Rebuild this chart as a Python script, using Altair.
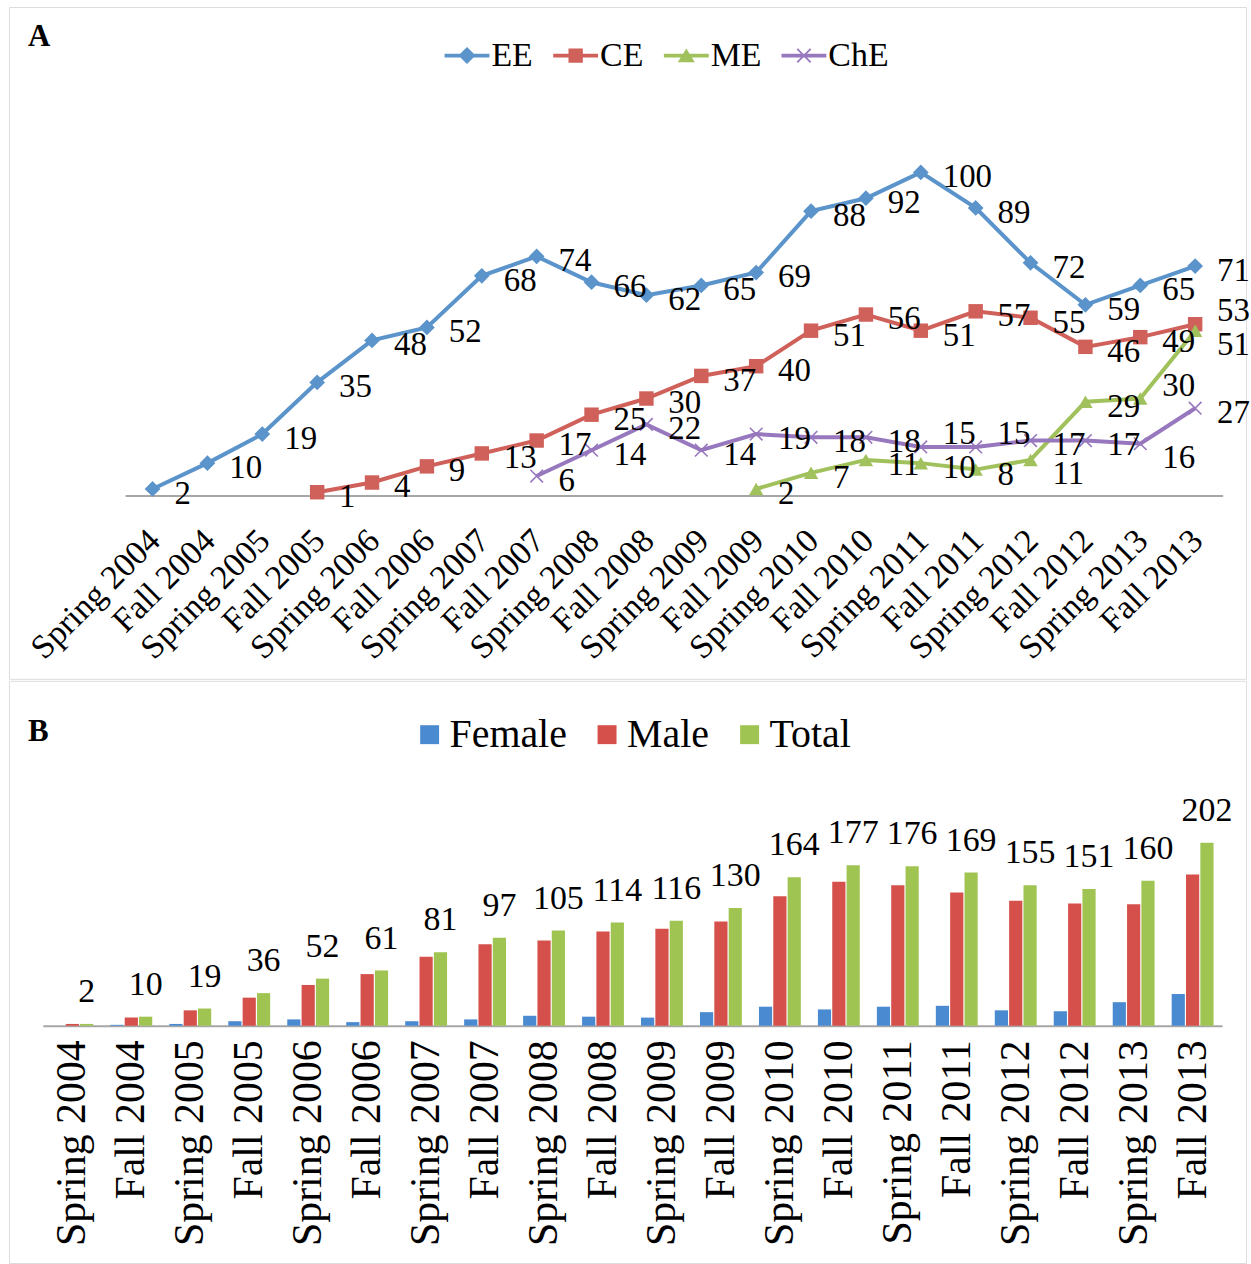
import altair as alt
import pandas as pd

# ---------------- data ----------------
semesters = ["Spring 2004", "Fall 2004", "Spring 2005", "Fall 2005", "Spring 2006",
             "Fall 2006", "Spring 2007", "Fall 2007", "Spring 2008", "Fall 2008",
             "Spring 2009", "Fall 2009", "Spring 2010", "Fall 2010", "Spring 2011",
             "Fall 2011", "Spring 2012", "Fall 2012", "Spring 2013", "Fall 2013"]

series_names = ["EE", "CE", "ME", "ChE"]
ee = [2, 10, 19, 35, 48, 52, 68, 74, 66, 62, 65, 69, 88, 92, 100, 89, 72, 59, 65, 71]
ce = [None, None, None, 1, 4, 9, 13, 17, 25, 30, 37, 40, 51, 56, 51, 57, 55, 46, 49, 53]
me = [None] * 11 + [2, 7, 11, 10, 8, 11, 29, 30, 51]
che = [None] * 7 + [6, 14, 22, 14, 19, 18, 18, 15, 15, 17, 17, 16, 27]

genders = ["Female", "Male", "Total"]
female = [0, 1, 2, 5, 7, 4, 5, 7, 11, 10, 9, 15, 21, 18, 21, 22, 17, 16, 26, 35]
male = [2, 9, 17, 31, 45, 57, 76, 90, 94, 104, 107, 115, 143, 159, 155, 147, 138, 135, 134, 167]
total = [2, 10, 19, 36, 52, 61, 81, 97, 105, 114, 116, 130, 164, 177, 176, 169, 155, 151, 160, 202]

panel_letters = ["A", "B"]

# ---------------- styles ----------------
FONT = "Liberation Serif"
series_colors = ["#5B93CB", "#D0605A", "#A0C15C", "#9777BD"]
gender_colors = ["#4A8AD0", "#D5504A", "#A0C452"]
FRAME = "#A6A6A6"
W = 1241
HA = 674
HB = 584
BASE_A = 490
BASE_B = 346

# legend symbols: a line with the series marker on it (all filled sub-paths, same winding)
line_part = "M-1,-0.08L1,-0.08L1,0.08L-1,0.08Z"
legend_paths = [
    line_part + "M0,-0.38L0.38,0L0,0.38L-0.38,0Z",
    line_part + "M-0.32,-0.32L0.32,-0.32L0.32,0.32L-0.32,0.32Z",
    line_part + "M0,-0.32L0.38,0.3L-0.38,0.3Z",
    line_part + "M-0.272,-0.328L0.328,0.272L0.272,0.328L-0.328,-0.272Z"
                "M-0.328,0.272L0.272,-0.328L0.328,-0.272L-0.272,0.328Z",
]
x_path = "M-1,-1L1,1M-1,1L1,-1"

# ---------------- panel A ----------------
rows = []
for name, vals in zip(series_names, [ee, ce, me, che]):
    for s, v in zip(semesters, vals):
        if v is not None:
            rows.append({"sem": s, "series": name, "value": v})
dfa = pd.DataFrame(rows)

xA = alt.X("sem:N", sort=semesters,
           scale=alt.Scale(type="point", domain=semesters, range=[116.5, 1217.5], padding=0.5),
           axis=alt.Axis(title=None, offset=BASE_A - HA, labelAngle=-45, labelAlign="right",
                         labelBaseline="top", labelPadding=28, labelOffset=-10,
                         labelFont=FONT, labelFontSize=34, labelColor="black",
                         labelLimit=400, labelOverlap=False, ticks=False, grid=False,
                         domainColor=FRAME, domainWidth=2))
yA = alt.Y("value:Q", scale=alt.Scale(domain=[0, 151.2], range=[BASE_A, 0], nice=False, zero=False),
           axis=None)

point_specs = [
    ("EE", dict(shape="diamond", size=250, filled=True)),
    ("CE", dict(shape="square", size=210, filled=True)),
    ("ME", dict(shape="triangle-up", size=210, filled=True)),
    ("ChE", dict(shape=x_path, size=160, filled=False, strokeWidth=1.6)),
]
line_layers = []
point_layers = []
for (name, spec), col in zip(point_specs, series_colors):
    one = alt.Chart(dfa).transform_filter(alt.datum.series == name)
    line_layers.append(one.mark_line(color=col, strokeWidth=4).encode(x=xA, y=yA))
    point_layers.append(one.mark_point(color=col, opacity=1, **spec).encode(x=xA, y=yA))

# value labels: most sit to the right of their point, a few are nudged as in the original
above = "(datum.series=='ChE' && (datum.sem=='Spring 2011' || datum.sem=='Fall 2011'))" \
        " || (datum.series=='ME' && datum.sem=='Spring 2013')" \
        " || (datum.series=='CE' && datum.sem=='Fall 2013')"
below = "(datum.series=='ME' && (datum.sem=='Fall 2013' || datum.sem=='Spring 2012'))" \
        " || (datum.series=='ChE' && datum.sem=='Spring 2013')"
txt = dict(align="left", baseline="middle", font=FONT, fontSize=33, color="black")
labels_a = alt.Chart(dfa).transform_filter(f"!({above}) && !({below})").mark_text(
    dx=22, dy=5, **txt).encode(x=xA, y=yA, text="value:Q")
labels_above = alt.Chart(dfa).transform_filter(above).mark_text(
    dx=22, dy=-13, **txt).encode(x=xA, y=yA, text="value:Q")
labels_below = alt.Chart(dfa).transform_filter(below).mark_text(
    dx=22, dy=14, **txt).encode(x=xA, y=yA, text="value:Q")

# legend: drawn from an empty layer whose scales carry the series names
legA = alt.Legend(title=None, orient="none", legendX=437, legendY=26, direction="horizontal",
                  symbolSize=2025, symbolStrokeWidth=0, symbolOpacity=1,
                  labelFont=FONT, labelFontSize=34, labelColor="black",
                  labelOffset=2, columnPadding=20)
legend_a = alt.Chart(dfa).transform_filter("false").mark_point(filled=True, opacity=1).encode(
    x=xA, y=yA,
    color=alt.Color("series:N", scale=alt.Scale(domain=series_names, range=series_colors), legend=legA),
    shape=alt.Shape("series:N", scale=alt.Scale(domain=series_names, range=legend_paths), legend=legA),
)

letter_a = alt.Chart(pd.DataFrame({"letter": [panel_letters[0]]})).mark_text(
    align="left", baseline="alphabetic", font=FONT, fontSize=31, fontWeight="bold", color="black"
).encode(x=alt.value(19), y=alt.value(39), text="letter:N")

panelA = alt.layer(*line_layers, *point_layers, labels_a, labels_above, labels_below,
                   legend_a, letter_a).properties(width=W, height=HA)

# ---------------- panel B ----------------
rowsb = []
for g, vals in zip(genders, [female, male, total]):
    for s, v in zip(semesters, vals):
        rowsb.append({"sem": s, "gender": g, "value": v})
dfb = pd.DataFrame(rowsb)

xB = alt.X("sem:N", sort=semesters,
           scale=alt.Scale(domain=semesters, range=[34, 1217], paddingInner=0.29, paddingOuter=0.145),
           axis=alt.Axis(title=None, offset=BASE_B - HB, labelAngle=-90, labelAlign="right",
                         labelBaseline="middle", labelPadding=14,
                         labelFont=FONT, labelFontSize=42, labelColor="black",
                         labelLimit=400, labelOverlap=False, ticks=False, grid=False,
                         domainColor=FRAME, domainWidth=2))
yB = alt.Y("value:Q", scale=alt.Scale(domain=[0, 380.6], range=[BASE_B, 0], nice=False), axis=None)
xoff = alt.XOffset("gender:N", sort=genders, scale=alt.Scale(domain=genders, paddingInner=0.08))

legB = alt.Legend(title=None, orient="none", legendX=402, legendY=34, direction="horizontal",
                  symbolType="square", symbolSize=361, symbolStrokeWidth=0, symbolOpacity=1,
                  labelFont=FONT, labelFontSize=40, labelColor="black",
                  labelOffset=0, columnPadding=20)

bars = alt.Chart(dfb).mark_bar().encode(
    x=xB, y=yB, xOffset=xoff,
    color=alt.Color("gender:N", sort=genders, scale=alt.Scale(domain=genders, range=gender_colors),
                    legend=legB),
)
labels_b = alt.Chart(dfb).transform_filter(alt.datum.gender == "Total").mark_text(
    baseline="middle", dy=-32, font=FONT, fontSize=34, color="black"
).encode(x=xB, y=yB, xOffset=xoff, text="value:Q")

letter_b = alt.Chart(pd.DataFrame({"letter": [panel_letters[1]]})).mark_text(
    align="left", baseline="alphabetic", font=FONT, fontSize=31, fontWeight="bold", color="black"
).encode(x=alt.value(19), y=alt.value(60), text="letter:N")

panelB = alt.layer(bars, labels_b, letter_b).properties(width=W, height=HB)

chart = alt.vconcat(panelA, panelB, spacing=0).resolve_scale(
    color="independent", shape="independent",
    x="independent", y="independent", xOffset="independent"
).properties(
    padding={"left": 8, "top": 4, "right": 0, "bottom": 0}
).configure_view(stroke=FRAME, strokeWidth=2).configure(background="white")

chart.save("out.html", embed_options={"renderer": "svg", "actions": False})
